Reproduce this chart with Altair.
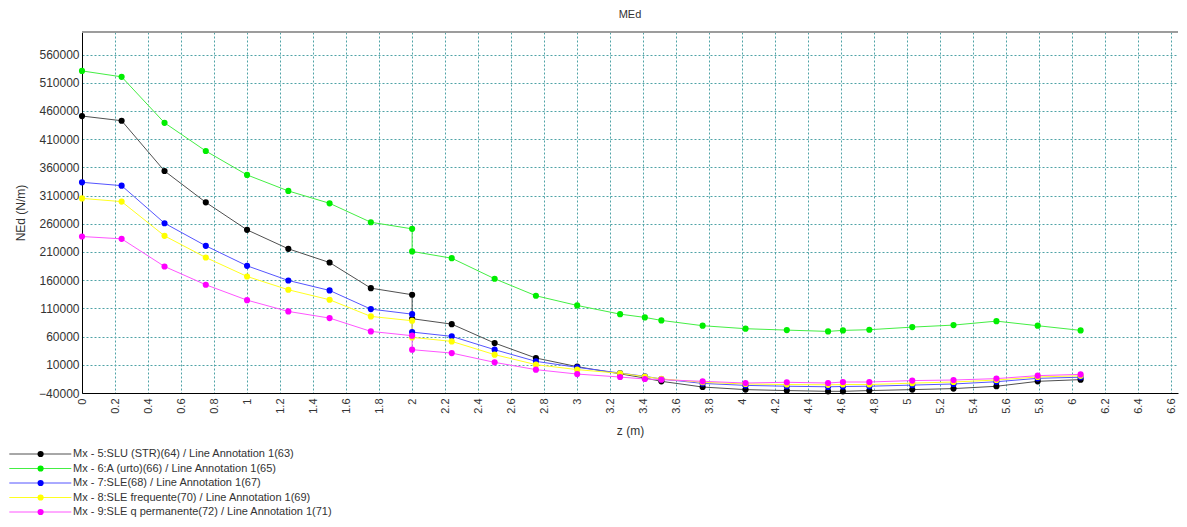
import altair as alt
import pandas as pd

# ---- data ----
z = [0, 0.24, 0.5, 0.75, 1.0, 1.25, 1.5, 1.75, 2.0, 2.0, 2.24, 2.5, 2.75, 3.0,
     3.26, 3.41, 3.51, 3.76, 4.02, 4.27, 4.52, 4.61, 4.77, 5.03, 5.28, 5.54, 5.79, 6.05]

slu = [451000, 442700, 353600, 298000, 249200, 215600, 191300, 145900, 134200, 91700,
       82100, 48500, 22000, 6700, -6000, -13500, -19300, -29400, -34000, -35700,
       -37000, -37000, -35700, -34000, -32200, -28100, -19300, -16300]
urto = [531000, 520500, 439000, 389000, 346600, 318200, 296300, 262700, 251000, 211000,
        199000, 162500, 132400, 115200, 99800, 94000, 88700, 79300, 74000, 71500,
        69200, 71000, 72200, 76800, 80400, 87400, 79300, 71000]
sle = [333500, 327600, 261000, 220900, 185500, 159500, 141800, 108700, 99800, 68000,
       60400, 36800, 16100, 5500, -4600, -10400, -15200, -23000, -26500, -28000,
       -29000, -28500, -28000, -26000, -24000, -20000, -14000, -12000]
freq = [305000, 299300, 238600, 200200, 166600, 143000, 125300, 95800, 88100, 58600,
        51500, 28000, 10300, 1400, -5000, -11000, -15000, -21000, -24000, -25000,
        -25500, -25000, -25000, -22500, -20500, -17000, -11500, -9500]
perm = [237400, 233300, 184300, 151900, 124600, 104600, 92800, 69200, 61600, 36800,
        30800, 14300, 1400, -6400, -11700, -15200, -16300, -19300, -22300, -21000,
        -22300, -20500, -20500, -18000, -17000, -14500, -9200, -7000]

names = [
    "Mx - 5:SLU (STR)(64) / Line Annotation 1(63)",
    "Mx - 6:A (urto)(66) / Line Annotation 1(65)",
    "Mx - 7:SLE(68) / Line Annotation 1(67)",
    "Mx - 8:SLE frequente(70) / Line Annotation 1(69)",
    "Mx - 9:SLE q permanente(72) / Line Annotation 1(71)",
]
point_colors = ["#000000", "#00ee00", "#0000ff", "#ffff00", "#ff00ff"]
line_colors = ["#505050", "#44ee44", "#5555ff", "#ffff20", "#ff55ff"]

x_ticks = [0, 0.2, 0.4, 0.6, 0.8, 1, 1.2, 1.4, 1.6, 1.8, 2, 2.2, 2.4, 2.6, 2.8, 3, 3.2,
           3.4, 3.6, 3.8, 4, 4.2, 4.4, 4.6, 4.8, 5, 5.2, 5.4, 5.6, 5.8, 6, 6.2, 6.4, 6.6]
y_ticks = [-40000, 10000, 60000, 110000, 160000, 210000, 260000, 310000, 360000,
           410000, 460000, 510000, 560000]

series_vals = [slu, urto, sle, freq, perm]
rows = []
for k, (nm, vals) in enumerate(zip(names, series_vals)):
    for i, (zz, v) in enumerate(zip(z, vals)):
        rows.append({"series": nm, "sidx": k, "idx": i, "z": zz, "v": v})
df = pd.DataFrame(rows)
leg = pd.DataFrame({"series": names, "row": list(range(len(names)))})

W, H = 1096, 361
GRID = "#4fa3a6"

xenc = alt.X("z:Q", title="z (m)",
             scale=alt.Scale(domain=[0, 6.64], nice=False, zero=False),
             axis=alt.Axis(values=x_ticks, format="~g", labelAngle=270, labelFontSize=11,
                           labelColor="#333", ticks=False, labelPadding=5,
                           domainColor="#000", grid=True, gridColor=GRID,
                           gridDash=[2, 2], titleFontSize=12, titleFontWeight="normal",
                           titleColor="#333", titlePadding=12, labelFont="Liberation Sans",
                           titleFont="Liberation Sans"))
yenc = alt.Y("v:Q", title="NEd (N/m)",
             scale=alt.Scale(domain=[-40000, 600000], nice=False, zero=False),
             axis=alt.Axis(values=y_ticks, format="d", labelFontSize=12, labelColor="#333",
                           ticks=False, labelPadding=3, domainColor="#000", grid=True,
                           gridColor=GRID, gridDash=[2, 2], titleFontSize=12,
                           titleFontWeight="normal", titleColor="#333", titlePadding=11,
                           labelFont="Liberation Sans", titleFont="Liberation Sans"))

stroke_scale = alt.Scale(domain=names, range=line_colors)
fill_scale = alt.Scale(domain=names, range=point_colors)

lines = alt.Chart(df).mark_line(strokeWidth=1).encode(
    x=xenc, y=yenc,
    stroke=alt.Stroke("series:N", scale=stroke_scale, legend=None),
    detail="series:N",
    order=alt.Order("idx:Q"),
)
points = alt.Chart(df).mark_circle(size=38, opacity=1).encode(
    x=xenc, y=yenc,
    color=alt.Color("series:N", scale=fill_scale, legend=None),
    order=alt.Order("sidx:Q"),
)
frame = alt.Chart(leg).mark_rule(color="#999", strokeWidth=1).encode(
    x=alt.value(0), x2=alt.value(W), y=alt.value(0)
)
main = alt.layer(lines, points, frame)

ly = alt.Y("row:Q", scale=alt.Scale(domain=[0, 4], range=[422, 480]), axis=None)
leg_line = alt.Chart(leg).mark_rule(strokeWidth=1).encode(
    x=alt.value(-72.7), x2=alt.value(-10.7), y=ly,
    stroke=alt.Stroke("series:N", scale=stroke_scale, legend=None),
)
leg_pt = alt.Chart(leg).mark_circle(size=38, opacity=1).encode(
    x=alt.value(-41.4), y=ly,
    color=alt.Color("series:N", scale=fill_scale, legend=None),
)
leg_txt = alt.Chart(leg).mark_text(align="left", baseline="middle", fontSize=11,
                                   color="#333", font="Liberation Sans").encode(
    x=alt.value(-9), y=ly, text="series:N"
)
legend = alt.layer(leg_line, leg_pt, leg_txt)

chart = alt.layer(main, legend).resolve_scale(y="independent").properties(
    width=W, height=H,
    title=alt.TitleParams("MEd", fontSize=11, fontWeight="normal", color="#333",
                          font="Liberation Sans", anchor="middle", offset=12),
    padding={"left": 0, "top": 0, "right": 0, "bottom": 0},
).configure_view(stroke=None)

chart.save("out.html", embed_options={"renderer": "svg", "actions": False})
